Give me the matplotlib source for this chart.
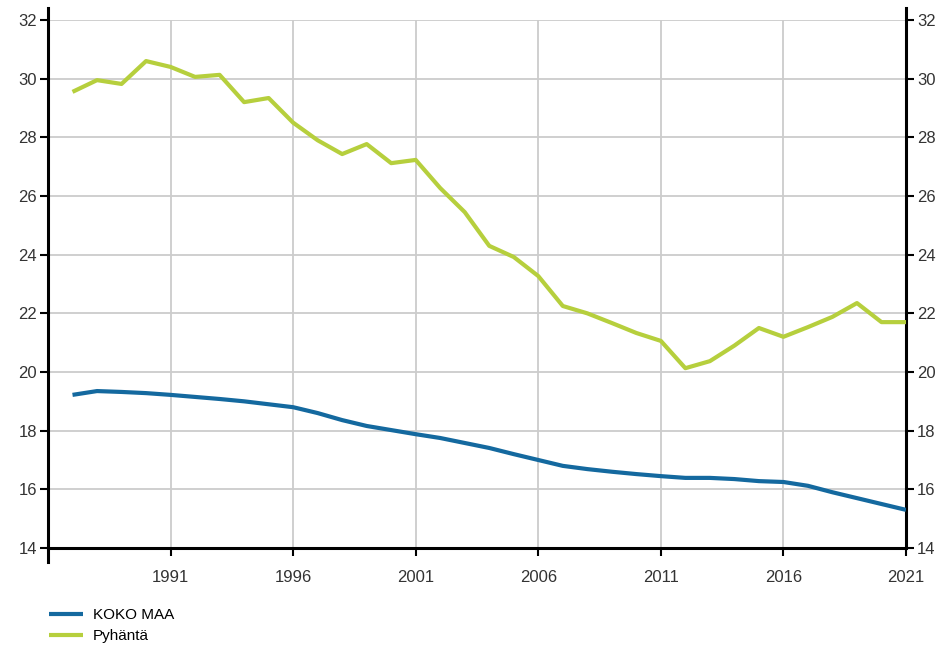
import matplotlib
matplotlib.use("Agg")
import matplotlib.pyplot as plt
from matplotlib.ticker import MultipleLocator

years = list(range(1987, 2022))
koko_maa = [19.22, 19.35, 19.32, 19.28, 19.22, 19.15, 19.08, 19.0, 18.9, 18.8,
            18.6, 18.36, 18.16, 18.02, 17.88, 17.75, 17.58, 17.41, 17.2, 17.0,
            16.8, 16.69, 16.6, 16.52, 16.45, 16.39, 16.39, 16.35, 16.28, 16.25,
            16.12, 15.9, 15.7, 15.5, 15.3]
pyhanta = [29.55, 29.95, 29.82, 30.6, 30.4, 30.06, 30.13, 29.2, 29.34, 28.5,
           27.9, 27.43, 27.77, 27.12, 27.23, 26.27, 25.45, 24.3, 23.92, 23.27,
           22.25, 22.0, 21.67, 21.33, 21.06, 20.13, 20.37, 20.9, 21.5, 21.2,
           21.53, 21.88, 22.35, 21.7, 21.7]
series_names = ["KOKO MAA", "Pyhäntä"]
x_ticks = [1991, 1996, 2001, 2006, 2011, 2016, 2021]

plt.rcParams['font.family'] = ['Liberation Sans', 'DejaVu Sans']

W, H = 947, 649
fig = plt.figure(figsize=(W / 100, H / 100), dpi=100)
ax = fig.add_axes([48 / W, 1 - 548 / H, (906 - 48) / W, (548 - 20) / H])

blue = "#14699f"
green = "#b6cf3d"
l1, = ax.plot(years, koko_maa, color=blue, lw=3.0, solid_capstyle='butt', zorder=3)
l2, = ax.plot(years, pyhanta, color=green, lw=3.0, solid_capstyle='butt', zorder=3)

ax.set_xlim(1986, 2021)
ax.set_ylim(14, 32)
ax.set_xticks(x_ticks)
ax.yaxis.set_major_locator(MultipleLocator(2))
ax.grid(True, color="#cccccc", lw=1.3, zorder=0)
ax.set_axisbelow(True)

ax.spines['top'].set_visible(False)
for s in ['left', 'right', 'bottom']:
    ax.spines[s].set_color('black')
    ax.spines[s].set_linewidth(2.2)
ax.spines['left'].set_bounds(13.52, 32.4)
ax.spines['right'].set_bounds(14, 32.4)

ax.tick_params(axis='y', which='both', left=True, right=True, labelleft=True,
               labelright=True, direction='out', length=6, width=1.5,
               labelsize=12, labelcolor='#333333', pad=2)
ax.tick_params(axis='x', direction='out', length=6, width=1.5, labelsize=12,
               labelcolor='#333333', pad=10)

fig.legend([l1, l2], series_names, loc='upper left',
           bbox_to_anchor=(46 / W, 1 - 605 / H), frameon=False, fontsize=11,
           handlelength=2.2, handletextpad=0.65, labelspacing=0.45,
           borderaxespad=0, borderpad=0.2)

fig.savefig("out.png", dpi=100)
